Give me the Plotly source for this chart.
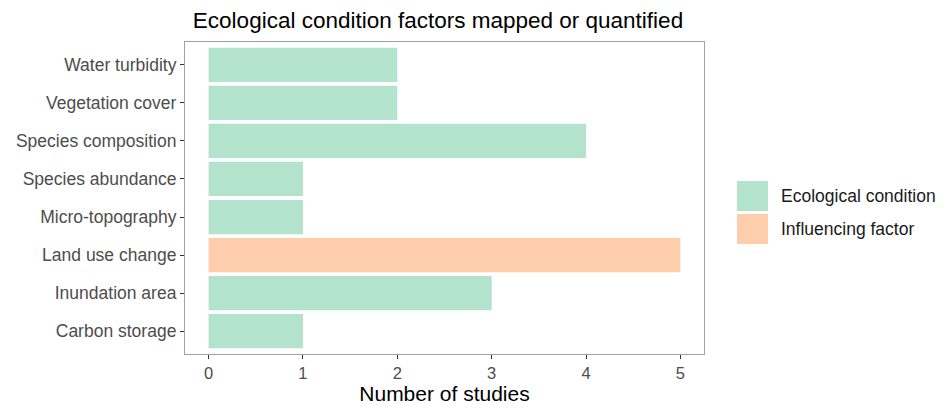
import plotly.graph_objects as go

categories = ["Carbon storage", "Inundation area", "Land use change", "Micro-topography",
              "Species abundance", "Species composition", "Vegetation cover", "Water turbidity"]
values = [1, 3, 5, 1, 1, 4, 2, 2]
groups = ["Ecological condition", "Ecological condition", "Influencing factor", "Ecological condition",
          "Ecological condition", "Ecological condition", "Ecological condition", "Ecological condition"]
group_names = ["Ecological condition", "Influencing factor"]
group_colors = ["#b3e2cd", "#fdcdac"]
x_ticks = [0, 1, 2, 3, 4, 5]

fig = go.Figure()
for g, c in zip(group_names, group_colors):
    ys = [cat for cat, gg in zip(categories, groups) if gg == g]
    xs = [v for v, gg in zip(values, groups) if gg == g]
    fig.add_trace(go.Bar(x=xs, y=ys, orientation="h", name=g, marker=dict(color=c, line=dict(width=0)),
                         width=0.9, showlegend=False))

# page offset from default body margin
OFF = 8
FW, FH = 946 - OFF, 410 - OFF
L, R, T, B = 185, 704, 42, 354  # panel edges in page pixels
W, H = R - L, B - T
def px(x): return (x - L) / W
def py(y): return (B - y) / H
key_tops = [181, 214]
for g, c, kt in zip(group_names, group_colors, key_tops):
    fig.add_shape(type="rect", xref="paper", yref="paper", x0=px(737), x1=px(768),
                  y0=py(kt + 30), y1=py(kt), fillcolor=c, line=dict(width=0))
    fig.add_annotation(xref="paper", yref="paper", x=px(779), y=py(kt + 15), text=g,
                       showarrow=False, xanchor="left", yanchor="middle",
                       font=dict(size=17.5, color="#1a1a1a"))

fig.update_layout(
    width=FW, height=FH,
    margin=dict(l=L - OFF, r=FW - (R - OFF), t=T - OFF, b=FH - (B - OFF)),
    plot_bgcolor="white", paper_bgcolor="white",
    barmode="overlay",
    font=dict(family="Liberation Sans, Arial, sans-serif"),
    title=dict(text="Ecological condition factors mapped or quantified", xref="paper", x=px(438),
               xanchor="center", y=1 - (20.5 - OFF) / FH, yanchor="middle",
               font=dict(size=22.5, color="black")),
)
fig.update_xaxes(range=[-0.25, 5.25], tickvals=x_ticks, showgrid=False, zeroline=False,
                 automargin=False,
                 showline=True, mirror=True, linecolor="#a0a0a0", linewidth=1.2,
                 ticks="outside", ticklen=4, tickcolor="#333333", tickwidth=1.2,
                 tickfont=dict(size=16.5, color="#4d4d4d"),
                 title=dict(text="Number of studies", font=dict(size=21, color="black"), standoff=4))
fig.update_yaxes(categoryorder="array", categoryarray=categories, range=[-0.6, 7.6],
                 showgrid=False, zeroline=False, automargin=False,
                 showline=True, mirror=True, linecolor="#a0a0a0", linewidth=1.2,
                 ticks="outside", ticklen=4, tickcolor="#333333", tickwidth=1.2,
                 tickfont=dict(size=17.5, color="#4d4d4d"))

fig.write_html("out.html")
